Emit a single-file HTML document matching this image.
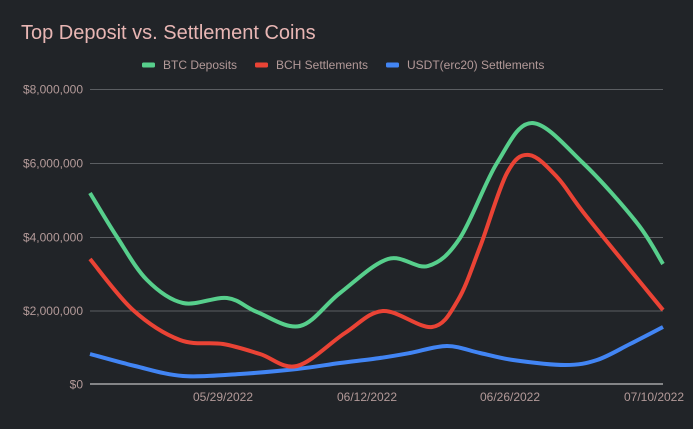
<!DOCTYPE html>
<html>
<head>
<meta charset="utf-8">
<style>
html,body{margin:0;padding:0;background:#212428;}
body{width:693px;height:429px;overflow:hidden;}
svg{display:block;}
text{font-family:"Liberation Sans",Arial,sans-serif;}
</style>
</head>
<body>
<svg width="693" height="429" viewBox="0 0 693 429" xmlns="http://www.w3.org/2000/svg">
<rect x="0" y="0" width="693" height="429" fill="#212428"/>
<text x="21" y="39" font-size="20" fill="#e8b6b4">Top Deposit vs. Settlement Coins</text>

<!-- legend -->
<rect x="142" y="62.5" width="13" height="5" rx="1.5" fill="#57cf8c"/>
<text x="163" y="69" font-size="12" fill="#b39a99">BTC Deposits</text>
<rect x="255" y="62.5" width="13" height="5" rx="1.5" fill="#ea4335"/>
<text x="276" y="69" font-size="12" fill="#b39a99">BCH Settlements</text>
<rect x="386" y="62.5" width="13" height="5" rx="1.5" fill="#4285f4"/>
<text x="407" y="69" font-size="12" fill="#b39a99">USDT(erc20) Settlements</text>

<!-- gridlines -->
<g stroke="#5b5e62" stroke-width="1">
<line x1="90" y1="89.5" x2="663" y2="89.5"/>
<line x1="90" y1="163.5" x2="663" y2="163.5"/>
<line x1="90" y1="237.5" x2="663" y2="237.5"/>
<line x1="90" y1="311" x2="663" y2="311"/>
</g>

<!-- y labels -->
<g font-size="12" fill="#b39a99" text-anchor="end">
<text x="83" y="93.5">$8,000,000</text>
<text x="83" y="167.5">$6,000,000</text>
<text x="83" y="241.5">$4,000,000</text>
<text x="83" y="315">$2,000,000</text>
<text x="83" y="388.5">$0</text>
</g>

<!-- x labels -->
<g font-size="12" fill="#b39a99" text-anchor="middle">
<text x="223" y="401">05/29/2022</text>
<text x="367" y="401">06/12/2022</text>
<text x="510" y="401">06/26/2022</text>
<text x="654" y="401">07/10/2022</text>
</g>

<!-- series -->
<g fill="none" stroke-width="4" stroke-linecap="butt" stroke-linejoin="round">
<path stroke="#4285f4" d="M90,354 C97.5,356 119.5,362.3 135,366 C150.5,369.7 165.5,374.7 183,376 C200.5,377.3 221,375.2 240,374 C259,372.8 280.3,370.8 297,369 C313.7,367.2 326.2,364.8 340,363 C353.8,361.2 368.3,359.7 380,358 C391.7,356.3 398.8,355 410,353 C421.2,351 435.3,346 447,346 C458.7,346 469,350.7 480,353 C491,355.3 498.8,358 513,360 C527.2,362 551,365 565,365 C579,365 586.2,363.5 597,360 C607.8,356.5 619,349.5 630,344 C641,338.5 657.5,329.8 663,327"/>
<path stroke="#ea4335" d="M90,259 C97.2,267.5 118,296.5 133,310 C148,323.5 165,334.3 180,340 C195,345.7 209.7,341.7 223,344 C236.3,346.3 247.7,350.3 260,354 C272.3,357.7 282.8,369.5 297,366 C311.2,362.5 330.7,342.2 345,333 C359.3,323.8 368.5,312 383,311 C397.5,310 419.5,328.8 432,327 C444.5,325.2 450,313.3 458,300 C466,286.7 471.8,268.2 480,247 C488.2,225.8 498.8,188.3 507,173 C515.2,157.7 520.7,154.3 529,155 C537.3,155.7 547.3,166.7 557,177 C566.7,187.3 569.3,194.8 587,217 C604.7,239.2 650.3,294.5 663,310"/>
<path stroke="#57cf8c" d="M90,193 C94.5,200.3 107.5,222.5 117,237 C126.5,251.5 136,269 147,280 C158,291 169.7,300 183,303 C196.3,306 214.7,296.5 227,298 C239.3,299.5 244.8,307.3 257,312 C269.2,316.7 286.2,329.2 300,326 C313.8,322.8 325.3,304.2 340,293 C354.7,281.8 373.3,263.5 388,259 C402.7,254.5 416,269.5 428,266 C440,262.5 448.5,255.2 460,238 C471.5,220.8 485,182.2 497,163 C509,143.8 517.7,123 532,123 C546.3,123 565.5,146.3 583,163 C600.5,179.7 623.7,206.2 637,223 C650.3,239.8 658.7,257.2 663,264"/>
</g>

<!-- baseline -->
<line x1="90" y1="384" x2="663" y2="384" stroke="#e6e6e6" stroke-width="1"/>
</svg>
</body>
</html>
